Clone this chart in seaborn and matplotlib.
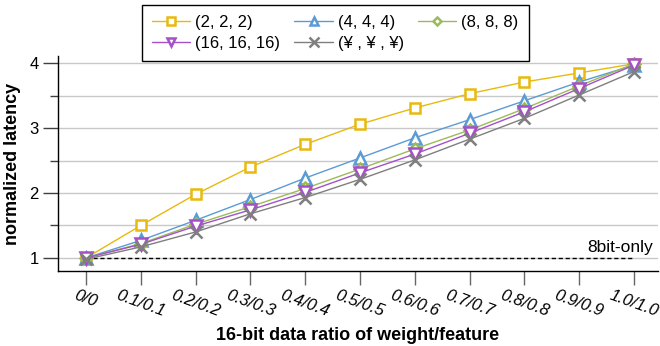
import matplotlib
matplotlib.use("Agg")
import matplotlib.pyplot as plt
from matplotlib.ticker import MultipleLocator
import seaborn as sns
import pandas as pd

# 16-bit data ratio (weight/feature) tick labels
ratios = ["0/0", "0.1/0.1", "0.2/0.2", "0.3/0.3", "0.4/0.4", "0.5/0.5",
          "0.6/0.6", "0.7/0.7", "0.8/0.8", "0.9/0.9", "1.0/1.0"]

# normalized latency per configuration
lat_2 = [1.00, 1.50, 1.98, 2.40, 2.75, 3.06, 3.31, 3.53, 3.71, 3.85, 3.99]
lat_4 = [1.00, 1.27, 1.58, 1.90, 2.23, 2.54, 2.85, 3.13, 3.42, 3.71, 3.97]
lat_8 = [1.00, 1.22, 1.52, 1.79, 2.07, 2.37, 2.68, 2.97, 3.30, 3.65, 3.99]
lat_16 = [1.00, 1.21, 1.49, 1.74, 2.01, 2.31, 2.60, 2.92, 3.25, 3.61, 3.97]
lat_inf = [0.98, 1.17, 1.40, 1.68, 1.93, 2.21, 2.51, 2.83, 3.15, 3.51, 3.87]

labels = ["(2, 2, 2)", "(4, 4, 4)", "(8, 8, 8)", "(16, 16, 16)", "(¥ , ¥ , ¥)"]
colors = ["#E8B90E", "#5B9BD5", "#9BBB59", "#A54FC9", "#7F7F7F"]
markers = ["s", "^", "D", "v", "x"]
msizes = [7, 8, 6, 8, 9]

sns.set_theme(style="white")
plt.rcParams["font.family"] = ["Liberation Sans", "DejaVu Sans"]
plt.rcParams["text.color"] = "black"
plt.rcParams["axes.labelcolor"] = "black"
plt.rcParams["xtick.color"] = "black"
plt.rcParams["ytick.color"] = "black"

fig = plt.figure(figsize=(6.6, 3.46), dpi=100)
ax = fig.add_axes([0.088, 0.217, 0.909, 0.621])

xs = list(range(len(ratios)))
series = [lat_2, lat_4, lat_8, lat_16, lat_inf]
for vals, lab, col, mk, ms in zip(series, labels, colors, markers, msizes):
    df = pd.DataFrame({"x": xs, "y": vals})
    sns.lineplot(data=df, x="x", y="y", ax=ax, color=col, marker=mk,
                 markersize=ms, markerfacecolor="white", markeredgecolor=col,
                 markeredgewidth=1.8, linewidth=1.0, label=lab, zorder=3)

# 8-bit-only baseline
ax.plot([0, 10], [1, 1], linestyle=(0, (3, 2)), color="black", linewidth=1.0, zorder=2)
ax.text(10.35, 1.04, "8bit-only", ha="right", va="bottom", fontsize=12.5)

ax.set_xlim(-0.51, 10.44)
ax.set_ylim(0.8, 4.11)
ax.set_xticks(xs)
ax.set_xticklabels(ratios, rotation=-20, style="italic", fontsize=12,
                   ha="center", rotation_mode="default")
ax.yaxis.set_major_locator(MultipleLocator(1))
ax.yaxis.set_minor_locator(MultipleLocator(0.5))
ax.tick_params(axis="y", which="major", direction="out", length=11, width=1,
               labelsize=12, left=True, color="#404040", pad=3)
ax.tick_params(axis="y", which="minor", direction="out", length=6, width=1,
               left=True, color="#404040")
ax.tick_params(axis="x", which="major", direction="out", length=10, width=1,
               bottom=True, color="#666666", pad=2)
ax.grid(True, axis="y", which="both", color="#c8c8c8", linewidth=1.0, zorder=0)
ax.set_axisbelow(True)

for side in ("top", "right"):
    ax.spines[side].set_visible(False)
for side in ("left", "bottom"):
    ax.spines[side].set_color("black")
    ax.spines[side].set_linewidth(1.0)

ax.set_xlabel("16-bit data ratio of weight/feature", fontsize=13,
              fontweight="bold", labelpad=6)
ax.set_ylabel("normalized latency", fontsize=13, fontweight="bold", labelpad=6)

handles, labs = ax.get_legend_handles_labels()
order = [0, 3, 1, 4, 2]
leg = ax.legend([handles[i] for i in order], [labs[i] for i in order],
                ncol=3, loc="upper left", bbox_to_anchor=(0.215, 0.986),
                bbox_transform=fig.transFigure, fontsize=12, frameon=True,
                fancybox=False, edgecolor="black", framealpha=1,
                handlelength=2.3, columnspacing=0.85, handletextpad=0.3,
                borderpad=0.6, labelspacing=0.35, borderaxespad=0,
                markerscale=0.75)
leg.get_frame().set_linewidth(1.0)
leg.set_zorder(10)

fig.savefig("out.png", dpi=100)
